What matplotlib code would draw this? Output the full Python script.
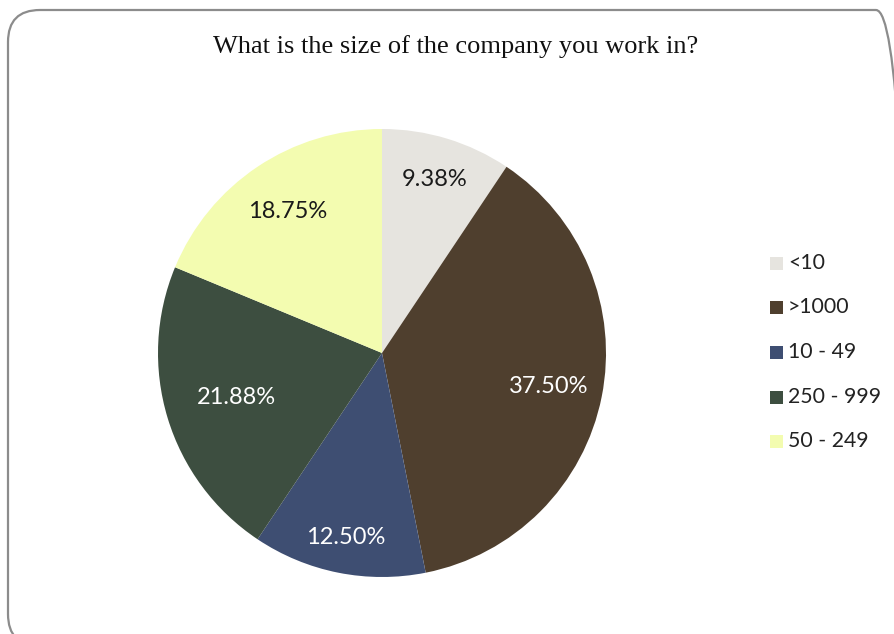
import numpy as np
import matplotlib
matplotlib.use("Agg")
import matplotlib.pyplot as plt
from matplotlib.patches import FancyBboxPatch

# Survey answers: company size share (%)
categories = ["<10", ">1000", "10 - 49", "250 - 999", "50 - 249"]
shares = [9.38, 37.50, 12.50, 21.88, 18.75]
colors = ["#E6E4DF", "#4F3F2E", "#3E4E72", "#3D4E40", "#F3FCB0"]
label_colors = ["#1a1a1a", "white", "white", "white", "#1a1a1a"]
label_radius = [0.81, 0.76, 0.84, 0.68, 0.76]

W, H = 894, 634
fig = plt.figure(figsize=(W / 100, H / 100), dpi=100)
fig.patch.set_facecolor("white")

# rounded frame around the whole chart (pixel coordinates)
frame = FancyBboxPatch((8, -12), 900, 636,
                       boxstyle="round,pad=0,rounding_size=32",
                       transform=None, facecolor="none",
                       edgecolor="#8c8c8c", linewidth=1.6)
fig.add_artist(frame)

fig.text(456 / W, 1 - 47 / H, "What is the size of the company you work in?",
         ha="center", va="center", family="Liberation Serif", fontsize=19,
         color="#111111")

cx, cy, r = 382, 634 - 353, 224
ax = fig.add_axes([(cx - r) / W, (cy - r) / H, 2 * r / W, 2 * r / H])
wedges, _ = ax.pie(shares, colors=colors, startangle=90, counterclock=False,
                   radius=1.0, wedgeprops=dict(linewidth=0))
ax.set_xlim(-1, 1)
ax.set_ylim(-1, 1)
ax.set_aspect("equal")
ax.axis("off")

for w, val, c, rr in zip(wedges, shares, label_colors, label_radius):
    mid = np.deg2rad((w.theta1 + w.theta2) / 2)
    ax.text(rr * np.cos(mid), rr * np.sin(mid), f"{val:.2f}%",
            ha="center", va="center", fontsize=17, color=c, family="Lato")

# legend at the right
ys = [263, 307, 352, 397, 441]
for cat, col, y in zip(categories, colors, ys):
    fig.patches.append(plt.Rectangle((770 / W, 1 - (y + 6.5) / H), 13 / W, 13 / H,
                                     transform=fig.transFigure, facecolor=col,
                                     edgecolor="none"))
    fig.text(788 / W, 1 - y / H, cat, ha="left", va="center", fontsize=15.3,
             family="Lato", color="#222222")

fig.savefig("out.png", dpi=100)
